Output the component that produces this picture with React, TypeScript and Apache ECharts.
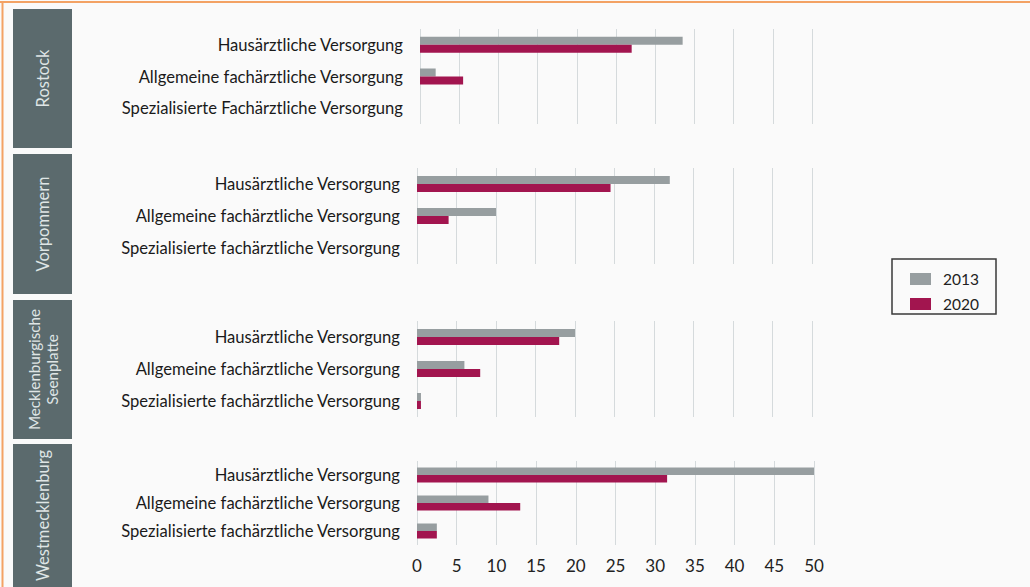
import React, { useEffect, useRef } from "react";
import * as echarts from "echarts";

const regions = ["Rostock", "Vorpommern", "Mecklenburgische\nSeenplatte", "Westmecklenburg"];

const categoriesRostock = [
  "Hausärztliche Versorgung",
  "Allgemeine fachärztliche Versorgung",
  "Spezialisierte Fachärztliche Versorgung",
];
const categoriesOther = [
  "Hausärztliche Versorgung",
  "Allgemeine fachärztliche Versorgung",
  "Spezialisierte fachärztliche Versorgung",
];

const values2013 = [
  [33.5, 2, 0],
  [32, 10, 0],
  [20, 6, 0.5],
  [50, 9, 2.5],
];
const values2020 = [
  [27, 5.5, 0],
  [24.5, 4, 0],
  [18, 8, 0.5],
  [31.5, 13, 2.5],
];

const xTicks = { min: 0, max: 50, interval: 5 };

const GRAY = "#979ea0";
const RED = "#a2154f";
const FONT = "Lato";

export default function App() {
  const ref = useRef<HTMLDivElement>(null);

  useEffect(() => {
    document.body.style.margin = "0";
    const chart = echarts.init(ref.current!, null, { renderer: "svg" });

    const grids = [
      { left: 420, right: 218, top: 29, height: 95 },
      { left: 417, right: 218, top: 168, height: 96 },
      { left: 417, right: 218, top: 321, height: 96 },
      { left: 417, right: 216, top: 461, height: 84 },
    ];
    const boxes = [
      { y: 9, h: 139, fs: 16.5 },
      { y: 154, h: 140, fs: 16.5 },
      { y: 300, h: 139, fs: 15.2 },
      { y: 444, h: 143, fs: 16.5 },
    ];

    const xAxis = grids.map((_, i) => ({
      type: "value",
      gridIndex: i,
      min: xTicks.min,
      max: xTicks.max,
      interval: xTicks.interval,
      axisLine: { show: false },
      axisTick: { show: false },
      splitLine: { show: true, lineStyle: { color: "#d5dadc", width: 1 } },
      axisLabel: {
        show: i === 3,
        fontFamily: FONT,
        fontSize: 17,
        color: "#222",
        margin: 12,
      },
    }));

    const yAxis = grids.map((_, i) => ({
      type: "category",
      gridIndex: i,
      inverse: true,
      data: i === 0 ? categoriesRostock : categoriesOther,
      axisLine: { show: false },
      axisTick: { show: false },
      axisLabel: {
        fontFamily: FONT,
        fontSize: 16.6,
        color: "#1a1a1a",
        margin: 17,
      },
    }));

    const series: any[] = [];
    grids.forEach((_, i) => {
      series.push({
        name: "2013",
        type: "bar",
        xAxisIndex: i,
        yAxisIndex: i,
        data: values2013[i],
        barWidth: i === 3 ? 7.5 : 8,
        barGap: "0%",
        itemStyle: { color: GRAY },
      });
      series.push({
        name: "2020",
        type: "bar",
        xAxisIndex: i,
        yAxisIndex: i,
        data: values2020[i],
        barWidth: i === 3 ? 7.5 : 8,
        barGap: "0%",
        itemStyle: { color: RED },
      });
    });

    const graphic: any[] = [
      { type: "rect", shape: { x: 0, y: 1, width: 1030, height: 2 }, style: { fill: "#f3a264" }, silent: true },
      { type: "rect", shape: { x: 1.5, y: 1, width: 2, height: 586 }, style: { fill: "#f3a264" }, silent: true },
      { type: "rect", shape: { x: 892, y: 259, width: 104, height: 55 }, style: { fill: "none", stroke: "#3a3a3a", lineWidth: 1.5 }, silent: true },
    ];
    boxes.forEach((b, i) => {
      graphic.push({
        type: "rect",
        shape: { x: 13, y: b.y, width: 59, height: b.h },
        style: { fill: "#5b6a6d" },
        silent: true,
      });
      graphic.push({
        type: "text",
        x: 43,
        y: b.y + b.h / 2,
        rotation: Math.PI / 2,
        style: {
          text: regions[i],
          fill: "#dfe5e5",
          font: `${b.fs}px ${FONT}`,
          align: "center",
          verticalAlign: "middle",
          lineHeight: 18,
        },
        silent: true,
      });
    });

    chart.setOption({
      animation: false,
      backgroundColor: "#fafafa",
      grid: grids,
      xAxis,
      yAxis,
      series,
      legend: {
        data: ["2013", "2020"],
        orient: "vertical",
        left: 910,
        top: 271,
        padding: 0,
        itemWidth: 21,
        itemHeight: 12,
        itemGap: 9,
        icon: "rect",
        textStyle: { fontFamily: FONT, fontSize: 15.5, color: "#222", lineHeight: 12, padding: [0, 0, 0, 7] },
      },
      graphic,
    });

    return () => chart.dispose();
  }, []);

  return <div ref={ref} style={{ width: 1030, height: 587 }} />;
}
